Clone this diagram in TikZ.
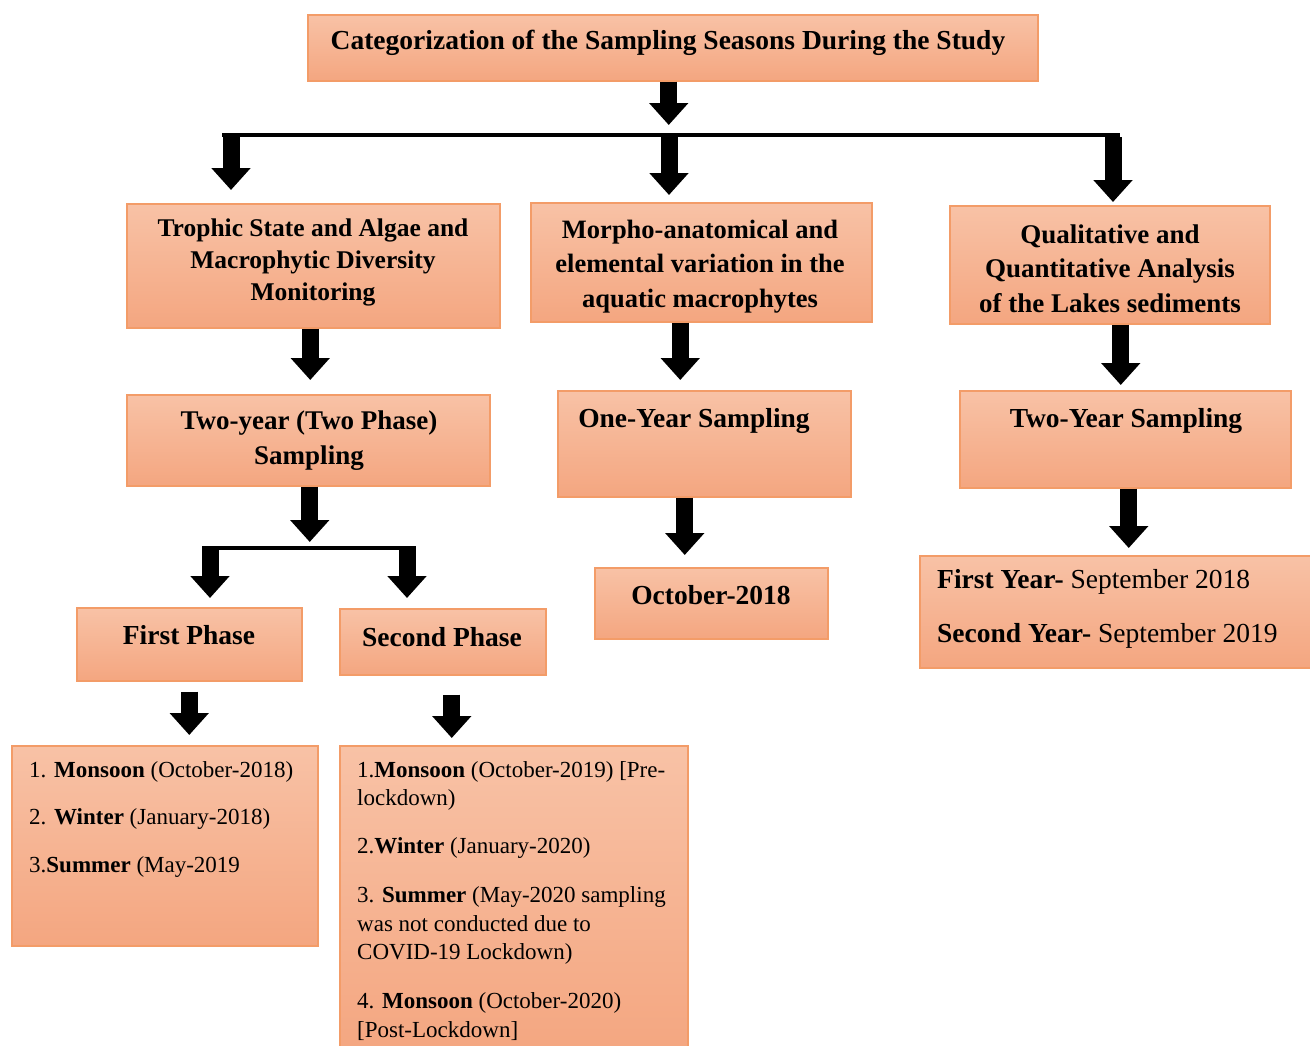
\documentclass[tikz,border=0pt]{standalone}
\usepackage{fontspec}
\setmainfont{Liberation Serif}
\usetikzlibrary{arrows.meta}
\definecolor{boxtop}{RGB}{248,194,166}
\definecolor{boxbot}{RGB}{244,166,128}
\definecolor{boxline}{RGB}{243,156,104}
\tikzset{
  box/.style={draw=boxline, line width=1.5pt, top color=boxtop, bottom color=boxbot,
    anchor=north west, inner sep=0pt, rectangle},
  hd/.style={font=\fontsize{26.5}{34.5}\selectfont\bfseries, align=center, inner sep=0pt, text=black, yshift=-2.5pt},
  bd/.style={font=\fontsize{23}{28.5}\selectfont, align=left, anchor=west, inner sep=0pt, text=black, yshift=-2pt},
  blk/.style={line width=17pt, -{Triangle[width=38pt,length=22pt]}, black},
  barline/.style={line width=4pt, black}
}
\begin{document}
\begin{tikzpicture}[x=1pt,y=-1pt]
\clip (0,0) rectangle (1310,1045);
\fill[white] (0,0) rectangle (1310,1045);
% boxes
\node[box, minimum width=730, minimum height=66] (T) at (307,14) {};
\node[box, minimum width=373, minimum height=124] (A) at (126,203) {};
\node[box, minimum width=341, minimum height=119] (B) at (530,202) {};
\node[box, minimum width=320, minimum height=118] (C) at (949,205) {};
\node[box, minimum width=363, minimum height=91] (D) at (126,394) {};
\node[box, minimum width=293, minimum height=106] (E) at (557,390) {};
\node[box, minimum width=331, minimum height=97] (F) at (959,390) {};
\node[box, minimum width=233, minimum height=71] (G) at (594,567) {};
\node[box, minimum width=391, minimum height=112] (H) at (919,555) {};
\node[box, minimum width=225, minimum height=73] (I) at (76,607) {};
\node[box, minimum width=206, minimum height=66] (J) at (339,608) {};
\node[box, minimum width=306, minimum height=200] (K) at (11,745) {};
\node[box, minimum width=348, minimum height=310] (L) at (339,745) {};
% texts
\node[hd, font=\fontsize{27.5}{34}\selectfont\bfseries] (Tt) at (668,40) {Categorization of the Sampling Seasons During the Study};
\node[hd, font=\fontsize{25.5}{32}\selectfont\bfseries] (At) at (313,260) {Trophic State and Algae and\\Macrophytic Diversity\\Monitoring};
\node[hd] (Bt) at (700,264) {Morpho-anatomical and\\elemental variation in the\\aquatic macrophytes};
\node[hd, font=\fontsize{27}{34.5}\selectfont\bfseries] (Ct) at (1110,266) {Qualitative and\\Quantitative Analysis\\of the Lakes sediments};
\node[hd, font=\fontsize{27}{35}\selectfont\bfseries] (Dt) at (309,438.5) {Two-year (Two Phase)\\Sampling};
\node[hd, font=\fontsize{27.5}{34}\selectfont\bfseries] (Et) at (694,418) {One-Year Sampling};
\node[hd, font=\fontsize{27.5}{34}\selectfont\bfseries] (Ft) at (1126,418) {Two-Year Sampling};
\node[hd, font=\fontsize{27.5}{34}\selectfont\bfseries] (Gt) at (711,593) {October-2018};
\node[hd, font=\fontsize{27.5}{34}\selectfont\bfseries] (It) at (189,633) {First Phase};
\node[hd, font=\fontsize{27.5}{34}\selectfont\bfseries] (Jt) at (442,635) {Second Phase};
\node[bd, font=\fontsize{27.5}{34}\selectfont] (H1) at (937,580) {\textbf{First Year-} September 2018};
\node[bd, font=\fontsize{27.5}{34}\selectfont] (H2) at (937,634) {\textbf{Second Year-} September 2019};
\node[bd] (K1) at (29,770) {1. \textbf{Monsoon} (October-2018)};
\node[bd] (K2) at (29,817) {2. \textbf{Winter} (January-2018)};
\node[bd] (K3) at (29,865) {3.\textbf{Summer} (May-2019};
\node[bd] (L1) at (357,784) {1.\textbf{Monsoon} (October-2019) [Pre-\\lockdown)};
\node[bd] (L2) at (357,846) {2.\textbf{Winter} (January-2020)};
\node[bd] (L3) at (357,923.5) {3. \textbf{Summer} (May-2020 sampling\\was not conducted due to\\COVID-19 Lockdown)};
\node[bd] (L4) at (357,1014.5) {4. \textbf{Monsoon} (October-2020)\\{[}Post-Lockdown{]}};
% bar and bracket
\coordinate (barL) at (222,135);
\coordinate (barR) at (1120,135);
\coordinate (a1) at (231,133);
\coordinate (a2) at (669,133);
\coordinate (a3) at (1113,133);
\coordinate (brL) at (202,548);
\coordinate (brR) at (415,548);
\coordinate (b1) at (210,546);
\coordinate (b2) at (407,546);
\draw[barline] (barL) -- (barR);
\draw[barline] (brL) -- (brR);
% arrows
\draw[blk, shorten >=10pt] ([xshift=-4pt]T.south) -- ([xshift=-4pt]T.south |- barL);
\draw[blk, shorten <=4pt, shorten >=13pt] (a1) -- (a1 |- A.north);
\draw[blk, shorten <=4pt, shorten >=7pt] (a2) -- (a2 |- B.north);
\draw[blk, shorten <=4pt, shorten >=3pt] (a3) -- (a3 |- C.north);
\draw[blk, shorten >=14pt] ([xshift=-3pt]A.south) -- ([xshift=-3pt]A.south |- D.north);
\draw[blk, shorten >=10pt] ([xshift=-21pt]B.south) -- ([xshift=-21pt]B.south |- E.north);
\draw[blk, shorten >=5pt] ([xshift=11pt]C.south) -- ([xshift=11pt]C.south |- F.north);
\draw[blk, shorten >=6pt] ([xshift=1.5pt]D.south) -- ([xshift=1.5pt]D.south |- brL);
\draw[blk, shorten >=9pt] (b1) -- (b1 |- I.north);
\draw[blk, shorten >=10pt] (b2) -- (b2 |- J.north);
\draw[blk, shorten >=12pt] ([xshift=-19.5pt]E.south) -- ([xshift=-19.5pt]E.south |- G.north);
\draw[blk, shorten >=7pt] ([xshift=3.5pt]F.south) -- ([xshift=3.5pt]F.south |- H.north);
\draw[blk, shorten <=10pt, shorten >=10pt] (I.south) -- (I.south |- K.north);
\draw[blk, shorten <=19pt, shorten >=7pt] ([xshift=9pt]J.south) -- ([xshift=9pt]J.south |- L.north);
\end{tikzpicture}
\end{document}
